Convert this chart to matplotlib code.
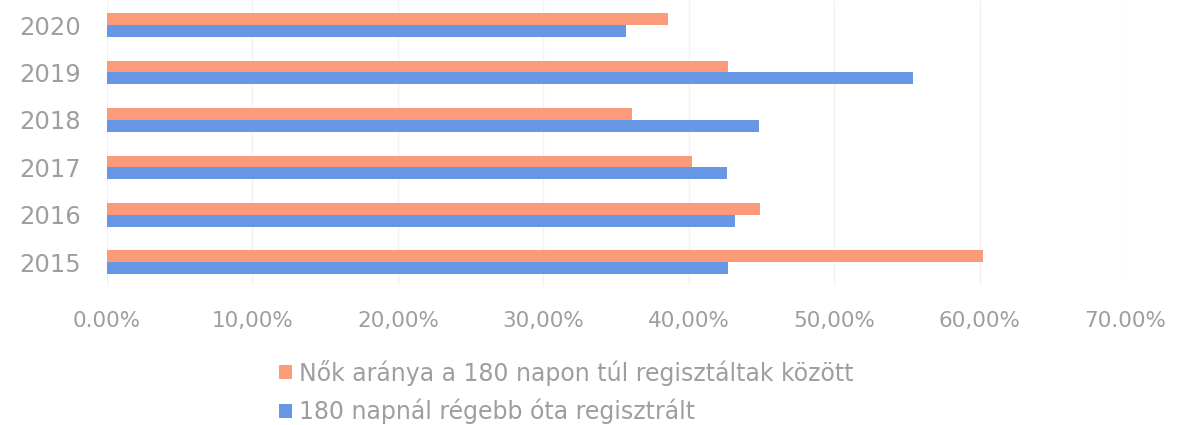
import numpy as np
import matplotlib.pyplot as plt

# data
years = ['2015', '2016', '2017', '2018', '2019', '2020']
women_share = [60.2, 44.9, 40.2, 36.1, 42.7, 38.6]    # Nők aránya ...
long_registered = [42.7, 43.2, 42.6, 44.8, 55.4, 35.7]  # 180 napnál régebb ...
xtick_vals = [0, 10, 20, 30, 40, 50, 60, 70]
xtick_labels = ['0.00%', '10,00%', '20,00%', '30,00%', '40,00%', '50,00%', '60,00%', '70.00%']
label_women = 'Nők aránya a 180 napon túl regisztáltak között'
label_long = '180 napnál régebb óta regisztrált'

OrangeColor = '#FC9B7A'
BlueColor = '#6796E4'
TextColor = '#9E9E9E'

fig = plt.figure(figsize=(11.83, 4.25), dpi=100)
ax = fig.add_axes([0.0904, 0.327, 0.8606, 0.67])

y = np.arange(len(years))
h = 0.25
ax.barh(y + h/2, women_share, height=h, color=OrangeColor, label=label_women, zorder=3)
ax.barh(y - h/2, long_registered, height=h, color=BlueColor, label=label_long, zorder=3)

ax.set_xlim(0, 70)
ax.set_ylim(-0.5, 5.5)
ax.set_yticks(y)
ax.set_yticklabels(years, fontsize=17.5, color=TextColor)
ax.set_xticks(xtick_vals)
ax.set_xticklabels(xtick_labels, fontsize=15.5, color=TextColor)
ax.tick_params(length=0)
ax.tick_params(axis='y', pad=19)
ax.tick_params(axis='x', pad=18)

ax.grid(axis='x', color='#f2f2f2', linewidth=1, zorder=0)
for s in ax.spines.values():
    s.set_visible(False)

fig.legend(loc='upper left', bbox_to_anchor=(0.228, 0.176), frameon=False,
           fontsize=17, labelcolor=TextColor, handlelength=0.55, handleheight=0.55,
           handletextpad=0.3, labelspacing=0.55, borderaxespad=0)

plt.savefig('out.png', dpi=100)
